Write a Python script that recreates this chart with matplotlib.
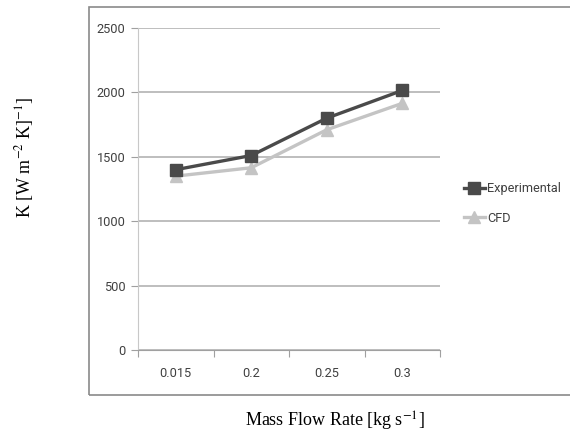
import matplotlib
matplotlib.use("Agg")
import matplotlib.pyplot as plt
from matplotlib.patches import Rectangle

# datos
categorias = ["0.015", "0.2", "0.25", "0.3"]
experimental = [1400, 1510, 1800, 2015]
cfd = [1350, 1415, 1710, 1915]
yticks = [0, 500, 1000, 1500, 2000, 2500]

plt.rcParams["mathtext.fontset"] = "stix"

fig = plt.figure(figsize=(5.7, 4.34), dpi=100)

# marco exterior del grafico
fig.patches.append(Rectangle((89 / 570, 1 - 395 / 434), 1.0, (395 - 7) / 434,
                             transform=fig.transFigure, fill=False,
                             edgecolor="#8a8a8a", linewidth=1.2))

ax = fig.add_axes([138 / 570, 1 - 350 / 434, 302 / 570, 322 / 434])
x = [i + 0.5 for i in range(len(categorias))]

ax.plot(x, experimental, color="#4a4a4a", linewidth=2.4, marker="s",
        markersize=8.5, label="Experimental", zorder=4)
ax.plot(x, cfd, color="#c4c4c4", linewidth=2.4, marker="^",
        markersize=8, label="CFD", zorder=3)

ax.set_xlim(0, len(categorias))
ax.set_ylim(0, 2500)
ax.set_yticks(yticks)
ax.set_xticks(range(len(categorias) + 1))
ax.set_xticklabels([])
ax.set_xticks(x, minor=True)
ax.set_xticklabels(categorias, minor=True)
ax.tick_params(axis="x", which="minor", length=0, pad=12)
ax.tick_params(axis="x", which="major", length=5, color="#a0a0a0", direction="out")
ax.tick_params(axis="y", length=5, color="#a0a0a0", pad=4)

fuente = ["Roboto", "DejaVu Sans"]
for lab in ax.get_yticklabels() + ax.get_xticklabels(minor=True):
    lab.set_family(fuente)
    lab.set_fontsize(9.2)
    lab.set_color("#404040")

ax.grid(axis="y", color="#acacac", linewidth=1.1)
ax.set_axisbelow(True)
for lado in ["top", "right"]:
    ax.spines[lado].set_visible(False)
ax.spines["left"].set_color("#c8c8c8")
ax.spines["bottom"].set_color("#a0a0a0")

leg = ax.legend(loc="center left", bbox_to_anchor=(1.04, 0.455), frameon=False,
                handlelength=1.7, handletextpad=0.15, labelspacing=1.3,
                prop={"family": fuente, "size": 9.2})
for t in leg.get_texts():
    t.set_color("#404040")

fig.text(25 / 570, 1 - 157 / 434, r"K [W m$^{-2}$ K]$^{-1}$]", rotation=90,
         ha="center", va="center", family="Liberation Serif", fontsize=13)
fig.text(335 / 570, 1 - 421 / 434, r"Mass Flow Rate [kg s$^{-1}$]",
         ha="center", va="center", family="Liberation Serif", fontsize=13)

fig.savefig("out.png", dpi=100)
